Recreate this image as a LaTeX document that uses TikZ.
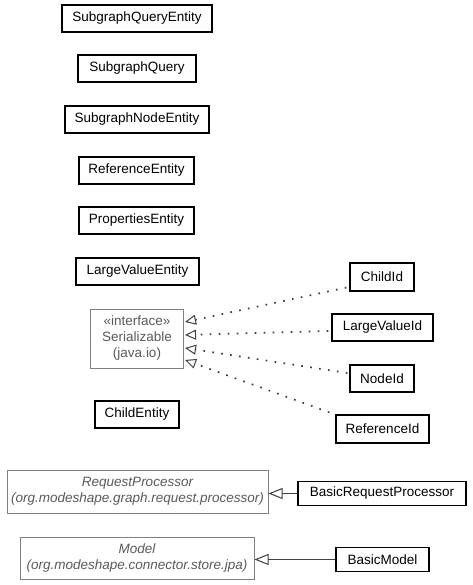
\documentclass[tikz,border=0pt]{standalone}
\usepackage{fontspec}
\setmainfont{Liberation Sans}
\usetikzlibrary{arrows.meta,calc}
\definecolor{extline}{HTML}{7F7F7F}
\definecolor{exttext}{HTML}{5A5A5A}
\definecolor{relline}{HTML}{404040}
\tikzset{
  cls/.style={draw=black, line width=1.2pt, fill=white, minimum height=27pt, inner sep=0pt, font=\fontsize{13.5}{15}\selectfont},
  ext/.style={draw=extline, line width=1pt, fill=white, inner sep=0pt, align=center, text=exttext, font=\fontsize{13.5}{16}\selectfont},
  real/.style={draw=relline, line width=1pt, -{Triangle[open, length=14pt, width=11pt]}},
  dep/.style={draw=relline, line width=1.7pt, dash pattern=on 1.7pt off 7.3pt, -{Triangle[open, length=11pt, width=10pt, line width=1pt]}}
}
\begin{document}
\begin{tikzpicture}[x=1pt,y=-1pt]
\useasboundingbox (0,0) rectangle (472,585);
\node[cls, minimum width=150pt] (sqe) at (137,18.5) {SubgraphQueryEntity};
\node[cls, minimum width=118pt] (sq) at (137,68.5) {SubgraphQuery};
\node[cls, minimum width=144pt] (sne) at (137,119.5) {SubgraphNodeEntity};
\node[cls, minimum width=115pt] (re) at (136.5,170.5) {ReferenceEntity};
\node[cls, minimum width=115pt] (pe) at (136.5,220.5) {PropertiesEntity};
\node[cls, minimum width=123pt] (lve) at (137.5,271.5) {LargeValueEntity};
\node[ext, minimum width=93pt, minimum height=59pt] (ser) at (137,338.5) {«interface»\\Serializable\\(java.io)};
\node[cls, minimum width=84pt] (ce) at (137,414.5) {ChildEntity};
\node[cls, minimum width=64pt, minimum height=28pt] (cid) at (382,277) {ChildId};
\node[cls, minimum width=101pt] (lvid) at (382.5,327.5) {LargeValueId};
\node[cls, minimum width=64pt] (nid) at (382,378.5) {NodeId};
\node[cls, minimum width=93pt, minimum height=28pt] (rid) at (382.5,429) {ReferenceId};
\node[ext, minimum width=261pt, minimum height=43pt] (rp) at (137.5,491.5) {\itshape RequestProcessor\\\itshape (org.modeshape.graph.request.processor)};
\node[cls, minimum width=168pt, minimum height=24pt] (brp) at (382,493.5) {BasicRequestProcessor};
\node[ext, minimum width=234pt, minimum height=42pt] (mod) at (137,558) {\itshape Model\\\itshape (org.modeshape.connector.store.jpa)};
\node[cls, minimum width=93pt, minimum height=24pt] (bm) at (382.5,559.5) {BasicModel};
\draw[dep] ($(cid.south west)+(-3,-4)$) -- ($(ser.east)+(1,-16.5)$);
\draw[dep] ($(lvid.west)+(-3,3.5)$) -- ($(ser.east)+(1,-3.5)$);
\draw[dep] ($(nid.west)+(-2,-5.5)$) -- ($(ser.east)+(1,9.5)$);
\draw[dep] ($(rid.north west)+(-6,-2)$) -- ($(ser.east)+(1,21.5)$);
\draw[real] (brp.west) -- (rp.east |- brp.west);
\draw[real] (bm.west) -- (mod.east |- bm.west);
\end{tikzpicture}
\end{document}
